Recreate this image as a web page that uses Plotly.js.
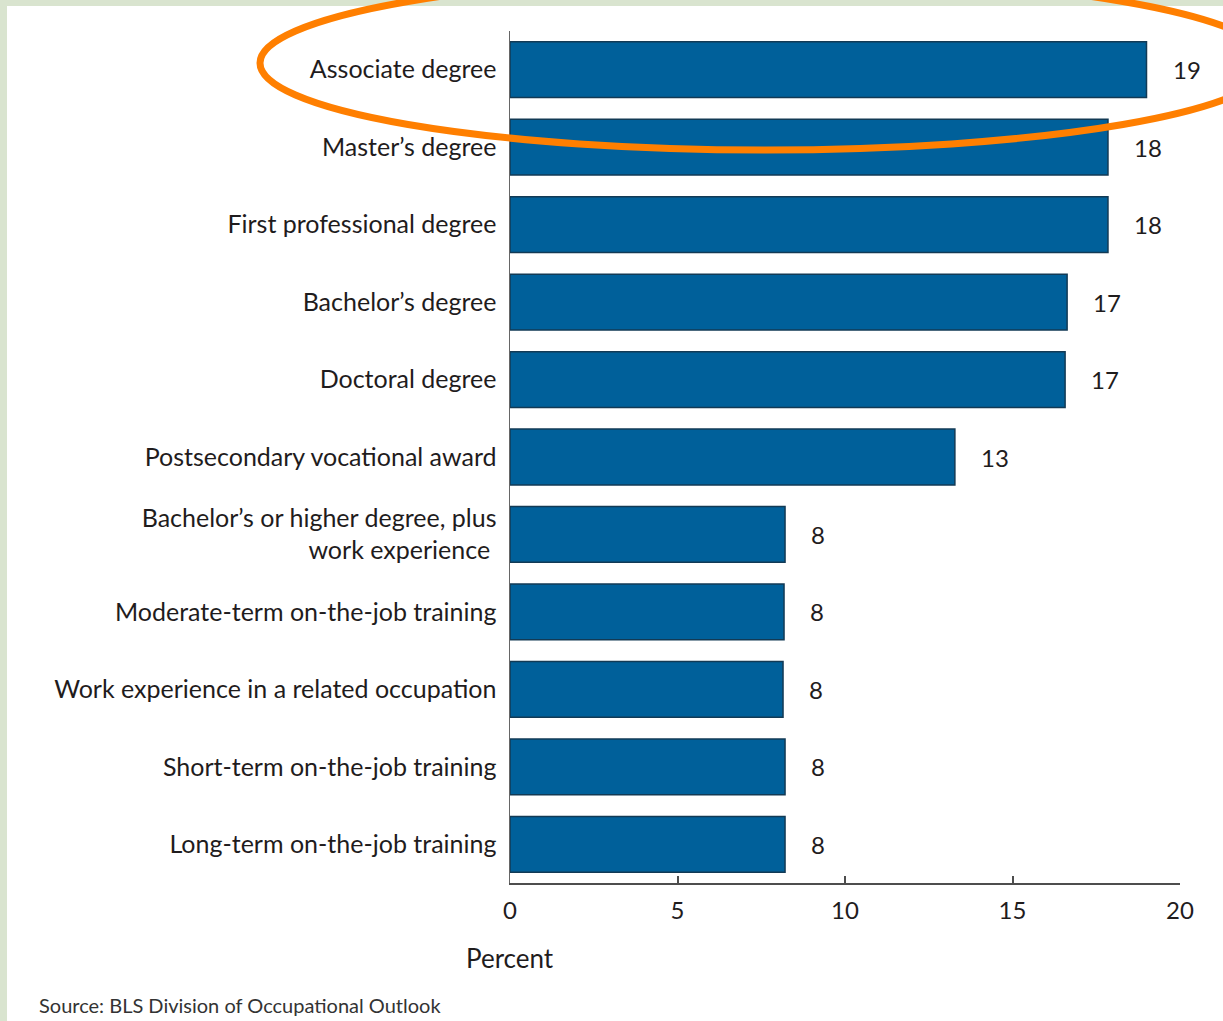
<!DOCTYPE html>
<html>
<head>
<meta charset="utf-8">
<script src="https://cdn.plot.ly/plotly-3.0.1.min.js"></script>
<style>
  html, body { margin: 0; padding: 0; background: #d9e4cf; width: 1223px; height: 1021px; overflow: hidden; }
  #chart { position: absolute; left: 0; top: 0; width: 1223px; height: 1021px; }
</style>
</head>
<body>
<div id="chart"></div>
<script>
// ---- data ----
var categories = [
  "Associate degree",
  "Master\u2019s degree",
  "First professional degree",
  "Bachelor\u2019s degree",
  "Doctoral degree",
  "Postsecondary vocational award",
  "Bachelor\u2019s or higher degree, plus<br>work experience ",
  "Moderate-term on-the-job training",
  "Work experience in a related occupation",
  "Short-term on-the-job training",
  "Long-term on-the-job training"
];
var percentValues = [19.0, 17.85, 17.85, 16.63, 16.57, 13.28, 8.21, 8.18, 8.15, 8.21, 8.21];
var valueLabels = ["19", "18", "18", "17", "17", "13", "8", "8", "8", "8", "8"];
var xTickValues = [0, 5, 10, 15, 20];
var xTickLabels = ["0", "5", "10", "15", "20"];
var axisTitle = "Percent";
var sourceNote = "Source: BLS Division of Occupational Outlook";

// ---- layout geometry (page pixels) ----
var W = 1223, H = 1021;
var plotL = 510, plotR = 1180, plotT = 31, plotB = 883;
var pw = plotR - plotL, ph = plotB - plotT;
function px2paperX(p) { return (p - plotL) / pw; }
function px2paperY(p) { return (plotB - p) / ph; }

var fontFam = "Lato, 'Noto Sans', sans-serif";
var txtColor = "#1f1c1d";

var trace = {
  type: "bar",
  orientation: "h",
  y: categories,
  x: percentValues,
  marker: { color: "#00609a", line: { color: "#123a55", width: 1.5 } },
  hoverinfo: "none"
};

var annotations = categories.map(function (c, i) {
  return {
    x: percentValues[i], y: c, xref: "x", yref: "y",
    text: valueLabels[i], showarrow: false,
    xanchor: "left", yanchor: "middle", xshift: 24, yshift: 0,
    font: { family: fontFam, size: 24, color: txtColor }
  };
});
annotations.push({
  x: 0, xref: "x", y: px2paperY(958), yref: "paper",
  text: axisTitle, showarrow: false, xanchor: "center", yanchor: "middle",
  font: { family: fontFam, size: 26, color: txtColor }
});
annotations.push({
  x: px2paperX(37), xref: "paper", y: px2paperY(1005), yref: "paper",
  text: sourceNote, showarrow: false, xanchor: "left", yanchor: "middle",
  font: { family: fontFam, size: 20, color: "#333333" }
});

var layout = {
  width: W, height: H,
  margin: { l: plotL, r: W - plotR, t: plotT, b: H - plotB, pad: 0 },
  paper_bgcolor: "#d9e4cf",
  plot_bgcolor: "#ffffff",
  bargap: 0.28,
  showlegend: false,
  xaxis: {
    range: [0, 20], tickvals: xTickValues, ticktext: xTickLabels,
    showgrid: false, zeroline: false,
    showline: true, linecolor: "#4d4d4d", linewidth: 2,
    ticks: "inside", ticklen: 7, tickwidth: 2, tickcolor: "#4d4d4d",
    ticklabelstandoff: 5,
    tickfont: { family: fontFam, size: 24, color: txtColor },
    fixedrange: true
  },
  yaxis: {
    autorange: "reversed", type: "category",
    showgrid: false, zeroline: false,
    showline: true, linecolor: "#666666", linewidth: 1.5,
    ticks: "", ticklabelstandoff: 7,
    tickfont: { family: fontFam, size: 25, color: txtColor },
    fixedrange: true
  },
  annotations: annotations,
  shapes: [{
    type: "rect", xref: "paper", yref: "paper",
    x0: px2paperX(7), x1: px2paperX(W + 5),
    y0: px2paperY(H + 5), y1: px2paperY(6),
    line: { width: 0 }, fillcolor: "#ffffff", layer: "below"
  }, {
    type: "circle", xref: "paper", yref: "paper",
    x0: px2paperX(260), x1: px2paperX(1271),
    y0: px2paperY(150), y1: px2paperY(-24),
    line: { color: "#ff7f00", width: 7 },
    fillcolor: "rgba(0,0,0,0)", layer: "above"
  }]
};

Plotly.newPlot("chart", [trace], layout, { displayModeBar: false, staticPlot: true });
</script>
</body>
</html>
